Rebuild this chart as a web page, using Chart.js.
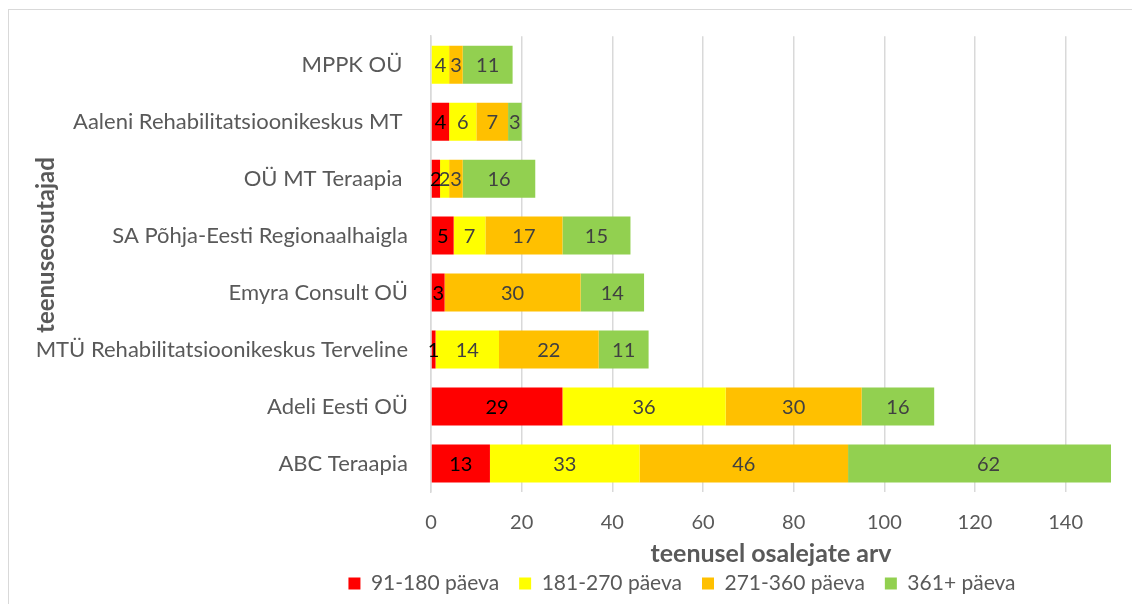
<!DOCTYPE html>
<html>
<head>
<meta charset="utf-8">
<script src="https://cdn.jsdelivr.net/npm/chart.js@4"></script>
<style>
html,body{margin:0;padding:0;background:#fff;overflow:hidden}
#wrap{position:relative;width:1132px;height:604px}
#frame{position:absolute;left:8px;top:9px;width:2000px;height:2000px;border:1.5px solid #d9d9d9;box-sizing:border-box}
canvas{position:absolute;left:0;top:0}
</style>
</head>
<body>
<div id="wrap">
  <div id="frame"></div>
  <canvas id="chart" width="1132" height="604"></canvas>
</div>
<script>
// ── Data ──
const providers=['MPPK OÜ ','Aaleni Rehabilitatsioonikeskus MT ','OÜ MT Teraapia ','SA Põhja-Eesti Regionaalhaigla','Emyra Consult OÜ','MTÜ Rehabilitatsioonikeskus Terveline','Adeli Eesti OÜ','ABC Teraapia'];
const seriesNames=['91-180 päeva','181-270 päeva','271-360 päeva','361+ päeva'];
const d91_180=[0,4,2,5,3,1,29,13];
const d181_270=[4,6,2,7,0,14,36,33];
const d271_360=[3,7,3,17,30,22,30,46];
const d361plus=[11,3,16,15,14,11,16,62];
const xTicks=[0,20,40,60,80,100,120,140];

const colors=['#ff0000','#ffff00','#ffc000','#92d050'];
const FONT='Lato, "Open Sans", sans-serif';
const GREY='#595959';

// value labels in the middle of each segment (zero values skipped)
const valueLabels={
  id:'valueLabels',
  afterDatasetsDraw(chart){
    const ctx=chart.ctx;
    ctx.save();
    ctx.font='20px '+FONT;
    ctx.textAlign='center';ctx.textBaseline='middle';
    chart.data.datasets.forEach((ds,i)=>{
      const meta=chart.getDatasetMeta(i);
      meta.data.forEach((bar,j)=>{
        const v=ds.data[j];
        if(!v)return;
        const p=bar.getProps(['x','y','base'],true);
        ctx.fillStyle=i===0?'#000':'#404040';
        ctx.fillText(String(v),(p.x+p.base)/2,p.y+1);
      });
    });
    ctx.restore();
  }
};

// rotated y title sits over the label column like in the original
const yTitle={
  id:'yTitle',
  afterDraw(chart){
    const ctx=chart.ctx;
    ctx.save();
    ctx.translate(46,245);
    ctx.rotate(-Math.PI/2);
    ctx.font='bold 24px '+FONT;
    ctx.fillStyle=GREY;
    ctx.textAlign='center';ctx.textBaseline='middle';
    ctx.fillText('teenuseosutajad',0,0);
    ctx.restore();
  }
};

// legend in the original is centred a bit left of the plot, move its box
const legendShift={
  id:'legendShift',
  afterLayout(chart){
    if(chart.legend) chart.legend.left=253;
  }
};

const seriesData=[d91_180,d181_270,d271_360,d361plus];
new Chart(document.getElementById('chart'),{
  type:'bar',
  data:{
    labels:providers,
    datasets:seriesNames.map((n,i)=>({label:n,data:seriesData[i],backgroundColor:colors[i],borderWidth:0,barPercentage:0.667,categoryPercentage:1}))
  },
  options:{
    indexAxis:'y',
    responsive:false,
    animation:false,
    layout:{padding:{top:35,right:21,bottom:0,left:0}},
    plugins:{
      legend:{position:'bottom',labels:{color:GREY,font:{family:FONT,size:21},boxWidth:12,boxHeight:12,padding:20}},
      tooltip:{enabled:false}
    },
    scales:{
      x:{
        stacked:true,min:0,max:150,
        afterBuildTicks:s=>{s.ticks=xTicks.map(v=>({value:v}));},
        afterFit:s=>{s.height=61;},
        grid:{color:'#d9d9d9',lineWidth:1.5,drawTicks:false},
        border:{display:false},
        ticks:{color:GREY,font:{family:FONT,size:20},padding:19},
        title:{display:true,text:'teenusel osalejate arv',color:GREY,font:{family:FONT,size:25,weight:'bold'},padding:{top:0,bottom:-16}}
      },
      y:{
        stacked:true,
        afterFit:s=>{s.width=431;},
        grid:{display:false,drawTicks:false},
        border:{display:true,color:'#d9d9d9',width:1.5},
        ticks:{color:GREY,font:{family:FONT,size:22},padding:23,autoSkip:false}
      }
    }
  },
  plugins:[valueLabels,yTitle,legendShift]
});
</script>
</body>
</html>
